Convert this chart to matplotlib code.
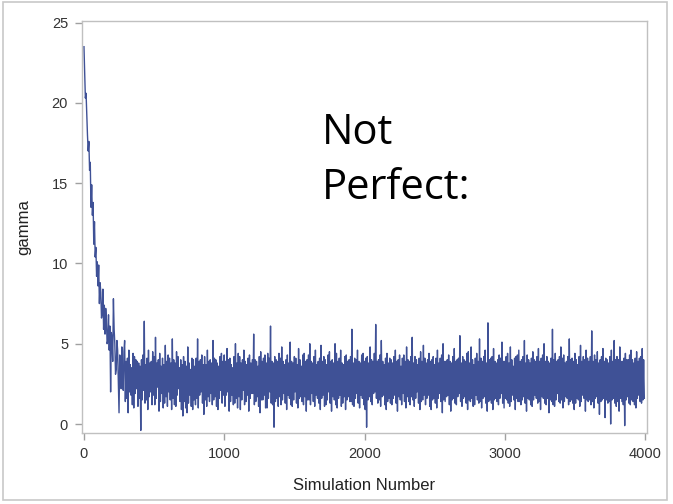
import numpy as np
import matplotlib
matplotlib.use("Agg")
import matplotlib.pyplot as plt
from matplotlib.patches import Rectangle

# Gamma trace, one value every 5 simulations (0..3995)
step = 5
burn_in = [
    23.5, 22.0, 20.3, 20.6, 19.2, 18.0, 17.0, 17.6, 15.8, 16.3, 13.5, 14.9, 13.0, 13.8, 11.2, 12.6, 10.4, 11.0, 9.2, 10.1,
    8.6, 9.9, 7.5, 8.8, 8.2, 6.6, 6.9, 8.4, 5.9, 7.4, 5.6, 7.2, 6.5, 5.0, 5.2, 6.8, 4.6, 6.1, 2.0, 5.7,
    5.3, 3.9, 7.8, 5.9, 5.0, 3.1, 3.4, 5.2, 4.6, 2.6, 0.7, 4.3, 3.9, 2.2, 4.8, 3.0, 2.1, 4.5, 5.2, 1.4,
]
stationary = [
    3.9, 1.6, 4.1, 0.7, 4.6, 2.0, 3.7, 1.8, 3.5, 1.2, 4.4, 1.0, 4.2, 1.9, 4.0, 2.2, 3.9, 1.1, 3.8, 1.6,
    3.6, -0.4, 4.0, 1.5, 4.3, 2.1, 6.4, 1.3, 3.7, 1.5, 4.1, 0.9, 4.6, 1.7, 3.8, 2.0, 3.9, 1.2, 4.5, 1.8,
    4.2, 1.2, 5.4, 1.6, 3.8, 2.3, 4.0, 0.8, 4.4, 1.4, 3.6, 1.9, 4.1, 1.0, 3.7, 1.3, 4.9, 1.7, 3.9, 1.1,
    4.3, 2.0, 4.1, 1.5, 3.8, 0.9, 5.3, 1.6, 4.0, 1.2, 3.8, 1.1, 4.5, 1.8, 4.2, 2.2, 3.5, 1.4, 4.0, 0.9,
    3.7, 0.5, 4.2, 1.4, 3.9, 1.0, 3.6, 0.7, 4.8, 1.3, 3.8, 1.8, 3.4, 1.1, 4.1, 0.9, 4.0, 1.5, 3.6, 1.2,
    4.1, 1.6, 5.3, 1.0, 3.9, 1.8, 4.0, 2.0, 4.3, 1.3, 3.7, 0.6, 4.2, 1.5, 3.7, 1.1, 4.6, 1.7, 3.9, 1.4,
    4.0, 1.9, 3.8, 1.2, 5.2, 1.5, 4.1, 1.7, 4.0, 1.1, 3.8, 0.9, 3.6, 1.6, 4.2, 2.1, 4.4, 1.3, 3.9, 1.8,
    4.3, 1.1, 3.9, 1.8, 4.7, 2.0, 4.0, 0.8, 4.1, 1.4, 3.7, 1.8, 3.5, 1.2, 4.2, 1.3, 5.0, 1.6, 3.8, 1.0,
    4.4, 1.7, 4.2, 0.9, 3.8, 1.5, 4.0, 2.1, 4.6, 1.2, 3.9, 1.4, 3.7, 1.8, 4.1, 0.8, 4.3, 1.6, 3.8, 1.9,
    4.0, 1.9, 5.6, 1.2, 4.0, 1.4, 3.9, 1.7, 3.6, 1.1, 4.2, 0.7, 4.5, 1.5, 3.9, 1.5, 4.1, 1.8, 4.3, 1.0,
    3.8, 1.0, 4.4, 1.6, 4.1, 2.0, 6.1, 1.3, 3.9, 1.2, 3.8, -0.2, 4.2, 1.4, 4.0, 1.6, 3.9, 1.1, 4.4, 1.7,
    4.1, 1.2, 4.8, 1.5, 3.9, 1.9, 3.7, 1.3, 4.0, 0.9, 4.3, 1.8, 3.8, 1.6, 5.1, 1.2, 3.9, 1.1, 3.8, 1.5,
    4.2, 2.0, 4.1, 1.3, 3.7, 1.0, 4.7, 1.6, 4.0, 1.7, 3.6, 1.4, 4.3, 1.2, 4.4, 1.7, 3.9, 0.8, 4.0, 1.5,
    4.3, 1.5, 5.0, 1.2, 3.9, 1.9, 3.8, 1.4, 4.2, 1.1, 4.6, 1.8, 3.7, 1.6, 3.9, 1.3, 4.1, 0.9, 4.9, 1.6,
    3.9, 1.8, 4.2, 1.1, 4.0, 1.2, 3.7, 1.5, 4.3, 2.0, 4.5, 1.3, 3.9, 0.8, 4.0, 1.7, 3.8, 1.5, 5.0, 1.2,
    4.4, 1.0, 3.9, 1.6, 4.1, 1.8, 4.6, 1.1, 3.8, 1.3, 3.7, 1.7, 4.2, 0.9, 4.3, 1.5, 3.9, 1.7, 4.0, 1.4,
    4.2, 1.4, 5.9, 1.2, 3.8, 1.1, 4.1, 1.6, 4.0, 1.9, 4.6, 1.3, 3.9, 1.0, 3.8, 1.8, 4.3, 1.6, 4.4, 1.2,
    3.9, 0.9, 4.1, -0.2, 4.2, 1.5, 3.8, 1.7, 4.8, 1.4, 4.0, 1.2, 3.9, 1.9, 4.4, 2.0, 6.2, 1.6, 3.9, 1.3,
    4.0, 1.5, 4.3, 1.1, 5.2, 1.7, 3.9, 1.8, 3.7, 1.2, 4.1, 0.9, 4.4, 1.4, 3.8, 1.6, 4.1, 1.3, 4.0, 1.2,
    3.8, 1.6, 4.2, 1.8, 4.6, 1.3, 3.9, 0.8, 4.0, 1.7, 4.3, 1.5, 3.6, 1.2, 4.1, 1.9, 4.3, 1.4, 3.9, 1.0,
    4.8, 1.7, 4.0, 1.4, 3.9, 1.2, 4.2, 1.7, 5.4, 1.5, 3.8, 1.1, 4.2, 1.6, 4.0, 2.0, 3.7, 1.3, 4.1, 0.9,
    4.5, 1.4, 3.9, 1.5, 4.9, 1.8, 4.1, 1.2, 3.8, 1.6, 4.0, 1.8, 4.4, 1.1, 3.9, 0.9, 4.0, 1.5, 4.2, 1.6,
    3.7, 1.3, 4.1, 1.0, 4.6, 1.6, 3.8, 1.9, 4.1, 1.4, 4.3, 0.7, 5.0, 1.5, 3.9, 1.4, 3.9, 1.7, 4.0, 1.8,
    4.3, 1.2, 3.9, 0.8, 3.8, 1.5, 4.2, 1.6, 4.7, 1.3, 3.9, 1.2, 4.0, 1.7, 4.1, 1.9, 5.5, 1.4, 3.8, 1.1,
    4.2, 1.6, 4.0, 1.7, 3.9, 1.3, 4.4, 0.9, 4.5, 1.5, 3.8, 1.4, 4.8, 1.6, 4.0, 1.1, 3.7, 1.2, 4.1, 1.8,
    4.4, 1.5, 3.9, 1.3, 5.3, 1.4, 4.1, 1.0, 3.9, 1.6, 4.2, 1.7, 4.6, 1.3, 3.8, 0.8, 6.3, 1.4, 4.0, 1.5,
    4.1, 1.3, 4.2, 0.9, 4.7, 1.5, 3.9, 1.6, 3.8, 1.4, 4.0, 1.2, 4.3, 1.6, 4.1, 1.9, 5.1, 1.3, 3.9, 1.0,
    3.9, 1.6, 4.2, 1.5, 4.4, 1.3, 3.8, 1.1, 4.8, 1.4, 4.0, 1.8, 3.6, 1.5, 4.1, 0.9, 4.2, 1.6, 4.3, 1.4,
    4.6, 1.4, 3.9, 1.2, 4.0, 1.5, 4.2, 1.7, 5.2, 1.3, 3.8, 0.8, 4.3, 1.6, 4.0, 1.5, 3.8, 1.2, 4.1, 1.1,
    4.5, 1.5, 4.0, 1.8, 3.9, 1.6, 4.2, 1.3, 4.7, 1.4, 3.9, 0.9, 4.1, 1.7, 4.3, 1.6, 5.0, 1.3, 3.9, 1.2,
    4.2, 1.6, 3.9, 0.7, 3.8, 1.5, 4.1, 1.4, 5.9, 1.2, 4.0, 1.1, 4.4, 1.5, 3.9, 1.9, 4.0, 1.4, 4.2, 1.3,
    4.8, 1.5, 4.1, 1.0, 4.3, 1.4, 3.8, 1.7, 3.9, 1.6, 4.2, 1.2, 5.3, 1.4, 4.0, 1.5, 4.1, 1.3, 3.9, 0.9,
    4.4, 1.3, 4.0, 1.6, 3.7, 1.5, 4.2, 1.1, 4.9, 1.4, 3.9, 1.8, 4.2, 1.6, 4.0, 0.8, 4.6, 1.5, 4.1, 1.4,
    3.9, 1.5, 4.2, 1.2, 5.8, 1.4, 3.9, 1.0, 4.3, 1.6, 4.0, 1.7, 4.5, 1.3, 3.8, 0.6, 4.0, 1.4, 4.2, 1.5,
    4.7, 1.6, 3.9, 0.4, 4.1, 1.5, 4.0, 1.3, 3.8, 1.4, 4.2, 0.0, 4.6, 1.5, 3.9, 1.6, 5.2, 1.3, 4.0, 1.1,
    4.2, 1.4, 4.0, 0.8, 4.8, 1.6, 3.9, 1.4, 3.9, 1.2, 4.1, -0.1, 4.4, 1.5, 4.0, 1.7, 4.0, 1.3, 4.3, 1.2,
    4.6, 1.5, 4.0, 1.4, 3.8, 1.2, 4.1, 1.0, 4.5, 1.6, 3.9, 1.8, 4.1, 1.4, 4.2, 1.3, 4.7, 1.5, 4.0, 1.6,
]
gamma = np.array(burn_in + stationary)
sim = np.arange(len(gamma)) * step

x_ticks = [0, 1000, 2000, 3000, 4000]
y_ticks = [0, 5, 10, 15, 20, 25]

W, H = 673, 504
fig = plt.figure(figsize=(W / 100, H / 100), dpi=100)
fig.patch.set_facecolor("white")
fig.patches.append(Rectangle((3 / W, 4 / H), 664 / W, 498 / H, transform=fig.transFigure,
                             fill=False, edgecolor="#c8c8c8", linewidth=1.2))

ax = fig.add_axes([82 / W, 1 - 433 / H, (647 - 82) / W, (433 - 21) / H])
ax.plot(sim, gamma, color="#3f5196", linewidth=1.0, solid_joinstyle="round")
ax.set_xlim(-14, 4014)
ax.set_ylim(-0.56, 25.1)
ax.set_xticks(x_ticks)
ax.set_yticks(y_ticks)
for s in ax.spines.values():
    s.set_color("#c0c0c0")
    s.set_linewidth(1.0)
ax.tick_params(axis="both", colors="#a0a0a0", length=5, width=1.0,
               labelcolor="#333333", labelsize=10.5, pad=5)
for lab in ax.get_xticklabels() + ax.get_yticklabels():
    lab.set_fontfamily("Liberation Sans")
ax.set_xlabel("Simulation Number", fontsize=12, family="Liberation Sans",
              color="#222222", labelpad=12)
ax.set_ylabel("gamma", fontsize=12, family="Liberation Sans",
              color="#222222", labelpad=15)

fig.text(322 / W, 1 - 144 / H, "Not", fontsize=30, family="Open Sans",
         color="black", va="baseline", ha="left")
fig.text(322 / W, 1 - 199 / H, "Perfect:", fontsize=30, family="Open Sans",
         color="black", va="baseline", ha="left")

fig.savefig("out.png", dpi=100)
